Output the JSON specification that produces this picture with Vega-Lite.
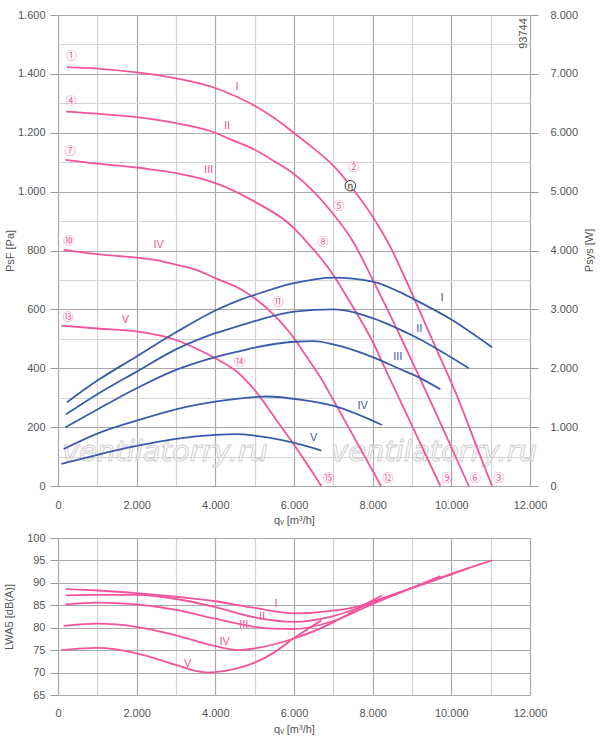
{
"$schema": "https://vega.github.io/schema/vega-lite/v6.json",
"padding": {"left": 3, "top": 9, "right": 5, "bottom": 5},
"spacing": 7,
"config": {
  "view": {"stroke": null},
  "font": "Liberation Sans",
  "axis": {"labelFont": "Liberation Sans", "labelFontSize": 11, "labelColor": "#555555", "titleFont": "Liberation Sans", "titleFontSize": 11, "titleFontWeight": "normal", "titleColor": "#555555", "domain": false, "tickColor": "#9a9a9a", "labelOverlap": false}
},
"datasets": {
  "pressure": [
    {"c":"I","q":229,"p":1423},{"c":"I","q":1000,"p":1418},{"c":"I","q":2000,"p":1405},{"c":"I","q":3000,"p":1385},{"c":"I","q":4000,"p":1352},{"c":"I","q":4500,"p":1325},{"c":"I","q":5000,"p":1292},{"c":"I","q":5500,"p":1250},{"c":"I","q":6000,"p":1199},{"c":"I","q":6500,"p":1147},{"c":"I","q":7000,"p":1088},{"c":"I","q":7432,"p":1020},{"c":"I","q":8000,"p":915},{"c":"I","q":8400,"p":825},{"c":"I","q":9044,"p":640},{"c":"I","q":9600,"p":471},{"c":"I","q":10188,"p":292},{"c":"I","q":10611,"p":145},{"c":"I","q":11035,"p":0},
    {"c":"II","q":203,"p":1272},{"c":"II","q":1000,"p":1265},{"c":"II","q":2000,"p":1253},{"c":"II","q":3000,"p":1233},{"c":"II","q":4000,"p":1200},{"c":"II","q":4340,"p":1180},{"c":"II","q":5000,"p":1142},{"c":"II","q":5500,"p":1103},{"c":"II","q":6000,"p":1060},{"c":"II","q":6500,"p":1000},{"c":"II","q":7000,"p":923},{"c":"II","q":7475,"p":836},{"c":"II","q":8068,"p":683},{"c":"II","q":8746,"p":496},{"c":"II","q":9600,"p":250},{"c":"II","q":10443,"p":0},
    {"c":"III","q":186,"p":1108},{"c":"III","q":1000,"p":1095},{"c":"III","q":2000,"p":1082},{"c":"III","q":2390,"p":1075},{"c":"III","q":3000,"p":1063},{"c":"III","q":4000,"p":1029},{"c":"III","q":5000,"p":966},{"c":"III","q":6000,"p":876},{"c":"III","q":6204,"p":847},{"c":"III","q":7000,"p":717},{"c":"III","q":7400,"p":630},{"c":"III","q":8000,"p":490},{"c":"III","q":8400,"p":375},{"c":"III","q":9000,"p":205},{"c":"III","q":9721,"p":0},
    {"c":"IV","q":145,"p":802},{"c":"IV","q":1035,"p":787},{"c":"IV","q":2000,"p":776},{"c":"IV","q":2500,"p":767},{"c":"IV","q":3000,"p":752},{"c":"IV","q":3500,"p":735},{"c":"IV","q":4000,"p":706},{"c":"IV","q":4678,"p":666},{"c":"IV","q":5000,"p":638},{"c":"IV","q":5500,"p":580},{"c":"IV","q":6034,"p":496},{"c":"IV","q":6204,"p":462},{"c":"IV","q":6712,"p":360},{"c":"IV","q":7000,"p":292},{"c":"IV","q":7500,"p":172},{"c":"IV","q":8213,"p":0},
    {"c":"V","q":85,"p":545},{"c":"V","q":1000,"p":535},{"c":"V","q":2000,"p":525},{"c":"V","q":3000,"p":496},{"c":"V","q":3500,"p":468},{"c":"V","q":4000,"p":434},{"c":"V","q":4594,"p":383},{"c":"V","q":5000,"p":326},{"c":"V","q":5611,"p":213},{"c":"V","q":6204,"p":100},{"c":"V","q":6695,"p":0}
  ],
  "power": [
    {"c":"I","q":229,"P":1422},{"c":"I","q":1000,"P":1790},{"c":"I","q":2000,"P":2200},{"c":"I","q":3000,"P":2610},{"c":"I","q":4000,"P":2980},{"c":"I","q":4678,"P":3173},{"c":"I","q":5000,"P":3246},{"c":"I","q":6000,"P":3445},{"c":"I","q":7000,"P":3540},{"c":"I","q":8000,"P":3472},{"c":"I","q":8746,"P":3275},{"c":"I","q":9000,"P":3190},{"c":"I","q":10018,"P":2821},{"c":"I","q":11035,"P":2357},
    {"c":"II","q":203,"P":1218},{"c":"II","q":1000,"P":1560},{"c":"II","q":2000,"P":1943},{"c":"II","q":3000,"P":2320},{"c":"II","q":4000,"P":2595},{"c":"II","q":4678,"P":2736},{"c":"II","q":5000,"P":2800},{"c":"II","q":6000,"P":2962},{"c":"II","q":7000,"P":3000},{"c":"II","q":8000,"P":2850},{"c":"II","q":8746,"P":2640},{"c":"II","q":9000,"P":2560},{"c":"II","q":10443,"P":2000},
    {"c":"III","q":186,"P":997},{"c":"III","q":1000,"P":1300},{"c":"III","q":2000,"P":1660},{"c":"III","q":3000,"P":1971},{"c":"III","q":4000,"P":2190},{"c":"III","q":4678,"P":2300},{"c":"III","q":5000,"P":2350},{"c":"III","q":6000,"P":2450},{"c":"III","q":6500,"P":2460},{"c":"III","q":7000,"P":2405},{"c":"III","q":8000,"P":2190},{"c":"III","q":8746,"P":1971},{"c":"III","q":9000,"P":1900},{"c":"III","q":9721,"P":1643},
    {"c":"IV","q":145,"P":629},{"c":"IV","q":1000,"P":890},{"c":"IV","q":2000,"P":1110},{"c":"IV","q":3000,"P":1303},{"c":"IV","q":4000,"P":1433},{"c":"IV","q":5000,"P":1510},{"c":"IV","q":5300,"P":1520},{"c":"IV","q":6204,"P":1462},{"c":"IV","q":7010,"P":1360},{"c":"IV","q":8238,"P":1037},
    {"c":"V","q":85,"P":374},{"c":"V","q":1000,"P":530},{"c":"V","q":2000,"P":680},{"c":"V","q":3000,"P":800},{"c":"V","q":4000,"P":867},{"c":"V","q":4500,"P":880},{"c":"V","q":5000,"P":855},{"c":"V","q":5600,"P":790},{"c":"V","q":6204,"P":697},{"c":"V","q":6695,"P":600}
  ],
  "sound": [
    {"c":"I","q":203,"L":88.6},{"c":"I","q":1000,"L":88.3},{"c":"I","q":2000,"L":87.7},{"c":"I","q":3000,"L":86.9},{"c":"I","q":4000,"L":85.9},{"c":"I","q":5000,"L":84.4},{"c":"I","q":6000,"L":83.2},{"c":"I","q":7000,"L":83.8},{"c":"I","q":7730,"L":85.0},{"c":"I","q":8000,"L":85.8},{"c":"I","q":9000,"L":88.9},{"c":"I","q":10000,"L":92.0},{"c":"I","q":11035,"L":95.0},
    {"c":"II","q":203,"L":87.2},{"c":"II","q":1000,"L":87.3},{"c":"II","q":2000,"L":87.3},{"c":"II","q":3000,"L":86.4},{"c":"II","q":4000,"L":84.6},{"c":"II","q":5000,"L":82.3},{"c":"II","q":6000,"L":81.3},{"c":"II","q":7000,"L":82.6},{"c":"II","q":8000,"L":85.6},{"c":"II","q":9000,"L":88.8},{"c":"II","q":10000,"L":91.9},{"c":"II","q":10443,"L":93.3},
    {"c":"III","q":186,"L":85.2},{"c":"III","q":1000,"L":85.6},{"c":"III","q":2000,"L":85.2},{"c":"III","q":3000,"L":84.0},{"c":"III","q":4000,"L":82.0},{"c":"III","q":5000,"L":80.2},{"c":"III","q":5500,"L":79.8},{"c":"III","q":6000,"L":79.7},{"c":"III","q":7000,"L":81.5},{"c":"III","q":8000,"L":85.3},{"c":"III","q":9000,"L":88.9},{"c":"III","q":9721,"L":91.5},
    {"c":"IV","q":145,"L":80.4},{"c":"IV","q":1000,"L":80.9},{"c":"IV","q":2000,"L":80.2},{"c":"IV","q":3000,"L":78.3},{"c":"IV","q":4000,"L":75.9},{"c":"IV","q":4600,"L":75.0},{"c":"IV","q":5000,"L":75.4},{"c":"IV","q":6000,"L":77.6},{"c":"IV","q":7000,"L":81.2},{"c":"IV","q":7500,"L":83.6},{"c":"IV","q":8000,"L":86.1},{"c":"IV","q":8238,"L":87.2},
    {"c":"V","q":85,"L":75.0},{"c":"V","q":1000,"L":75.5},{"c":"V","q":2000,"L":74.3},{"c":"V","q":3000,"L":71.7},{"c":"V","q":3500,"L":70.4},{"c":"V","q":3800,"L":70.0},{"c":"V","q":4000,"L":70.1},{"c":"V","q":4500,"L":70.8},{"c":"V","q":5000,"L":72.2},{"c":"V","q":5500,"L":74.5},{"c":"V","q":6000,"L":77.7},{"c":"V","q":6400,"L":80.0},{"c":"V","q":6695,"L":81.6}
  ],
  "circled": [
    {"t":"①","q":338,"p":1456},{"t":"④","q":331,"p":1303},{"t":"⑦","q":305,"p":1136},{"t":"⑩","q":271,"p":830},{"t":"⑬","q":254,"p":570},
    {"t":"②","q":7518,"p":1080},{"t":"⑤","q":7137,"p":947},{"t":"⑧","q":6738,"p":825},{"t":"⑪","q":5594,"p":621},{"t":"⑭","q":4620,"p":419},
    {"t":"③","q":11205,"p":23},{"t":"⑥","q":10611,"p":23},{"t":"⑨","q":9891,"p":23},{"t":"⑫","q":8391,"p":23},{"t":"⑮","q":6878,"p":23}
  ],
  "proman": [
    {"t":"I","q":4551,"p":1357},{"t":"II","q":4297,"p":1224},{"t":"III","q":3831,"p":1072},{"t":"IV","q":2560,"p":819},{"t":"V","q":1712,"p":564}
  ],
  "broman": [
    {"t":"I","q":9764,"P":3190},{"t":"II","q":9187,"P":2668},{"t":"III","q":8637,"P":2187},{"t":"IV","q":7747,"P":1360},{"t":"V","q":6501,"P":811}
  ],
  "sroman": [
    {"t":"I","q":5543,"L":85.3},{"t":"II","q":5187,"L":82.4},{"t":"III","q":4721,"L":80.7},{"t":"IV","q":4238,"L":76.9},{"t":"V","q":3297,"L":71.8}
  ],
  "eta": [{"t":"η","q":7432,"p":1020}],
  "code": [{"t":"93744","q":11848,"p":1537}],
  "mark": [{"t":"ventilatorry.ru","q":2720,"p":85},{"t":"ventilatorry.ru","q":9560,"p":85}]
},
"vconcat": [
  {
    "width": 472, "height": 471,
    "resolve": {"scale": {"y": "independent"}},
    "encoding": {
      "x": {"field": "q", "type": "quantitative", "scale": {"domain": [0, 12000], "nice": false},
        "axis": {"values": [0,1000,2000,3000,4000,5000,6000,7000,8000,9000,10000,11000,12000],
          "labelExpr": "datum.value % 2000 == 0 ? replace(format(datum.value, ','), ',', '.') : ''",
          "ticks": false, "tickSize": 0, "labelPadding": 13, "labelFlush": false,
          "grid": true, "gridWidth": 1.2, "gridColor": {"condition": {"test": "datum.value % 2000 == 0", "value": "#a9a9a9"}, "value": "#d4d4d4"},
          "title": "qᵥ [m³/h]", "titlePadding": 4}}
    },
    "layer": [
      {
        "encoding": {
          "y": {"field": "p", "type": "quantitative", "scale": {"domain": [0, 1600], "nice": false},
            "axis": {"values": [0,100,200,300,400,500,600,700,800,900,1000,1100,1200,1300,1400,1500,1600],
              "labelExpr": "datum.value % 200 == 0 ? replace(format(datum.value, ','), ',', '.') : ''",
              "tickSize": 8, "tickOpacity": {"condition": {"test": "datum.value % 200 == 0", "value": 1}, "value": 0},
              "labelPadding": 5, "grid": true, "gridWidth": 1.2,
              "gridColor": {"condition": {"test": "datum.value % 200 == 0", "value": "#a9a9a9"}, "value": "#d4d4d4"},
              "title": "PsF [Pa]", "titlePadding": 2}}
        },
        "layer": [
          {"data": {"name": "mark"}, "mark": {"type": "text", "font": "DejaVu Sans", "fontSize": 29, "fontStyle": "oblique", "fill": "#ffffff", "fillOpacity": 0.5, "stroke": "#d0d0d0", "strokeWidth": 1, "align": "center", "baseline": "alphabetic"},
            "encoding": {"text": {"field": "t"}}},
          {"data": {"name": "pressure"}, "mark": {"type": "line", "color": "#f2559c", "strokeWidth": 1.8, "interpolate": "monotone"},
            "encoding": {"detail": {"field": "c"}}},
          {"data": {"name": "circled"}, "mark": {"type": "text", "font": "Noto Sans CJK JP", "fontSize": 11, "color": "#f2559c", "align": "center", "baseline": "middle"},
            "encoding": {"text": {"field": "t"}}},
          {"data": {"name": "proman"}, "mark": {"type": "text", "font": "Liberation Sans", "fontSize": 11, "color": "#f2559c", "align": "center", "baseline": "middle"},
            "encoding": {"text": {"field": "t"}}},
          {"data": {"name": "eta"}, "mark": {"type": "point", "shape": "circle", "size": 110, "filled": true, "fill": "#ffffff", "stroke": "#333333", "strokeWidth": 1, "opacity": 1}},
          {"data": {"name": "eta"}, "mark": {"type": "text", "font": "DejaVu Sans", "fontSize": 9, "color": "#222222", "align": "center", "baseline": "middle"},
            "encoding": {"text": {"field": "t"}}},
          {"data": {"name": "code"}, "mark": {"type": "text", "font": "Liberation Sans", "fontSize": 11, "color": "#555555", "angle": 270, "align": "center", "baseline": "middle"},
            "encoding": {"text": {"field": "t"}}},
          {"data": {"values": [{}]}, "mark": {"type": "rule", "color": "#f2559c", "strokeWidth": 1.8},
            "encoding": {"x": {"datum": -1297}, "y": {"datum": 564}, "y2": {"datum": 702}}}
        ]
      },
      {
        "encoding": {
          "y": {"field": "P", "type": "quantitative", "scale": {"domain": [0, 8000], "nice": false},
            "axis": {"orient": "right", "values": [0,1000,2000,3000,4000,5000,6000,7000,8000],
              "labelExpr": "replace(format(datum.value, ','), ',', '.')",
              "tickSize": 8, "labelPadding": 12, "grid": false,
              "title": "Psys [W]", "titleAngle": 270, "titleX": 59, "titleY": 235, "titleAlign": "center", "titleBaseline": "middle"}}
        },
        "layer": [
          {"data": {"name": "power"}, "mark": {"type": "line", "color": "#3a5ba8", "strokeWidth": 1.8, "interpolate": "monotone"},
            "encoding": {"detail": {"field": "c"}}},
          {"data": {"name": "broman"}, "mark": {"type": "text", "font": "Liberation Sans", "fontSize": 11, "color": "#3a5ba8", "align": "center", "baseline": "middle"},
            "encoding": {"text": {"field": "t"}}},
          {"data": {"values": [{}]}, "mark": {"type": "rule", "color": "#3a5ba8", "strokeWidth": 1.8},
            "encoding": {"x": {"datum": 13560}, "y": {"datum": 2821}, "y2": {"datum": 3513}}}
        ]
      }
    ]
  },
  {
    "width": 472, "height": 157,
    "encoding": {
      "x": {"field": "q", "type": "quantitative", "scale": {"domain": [0, 12000], "nice": false},
        "axis": {"values": [0,1000,2000,3000,4000,5000,6000,7000,8000,9000,10000,11000,12000],
          "labelExpr": "datum.value % 2000 == 0 ? replace(format(datum.value, ','), ',', '.') : ''",
          "ticks": false, "tickSize": 0, "labelPadding": 12, "labelFlush": false,
          "grid": true, "gridWidth": 1.2, "gridColor": {"condition": {"test": "datum.value % 2000 == 0", "value": "#a9a9a9"}, "value": "#d4d4d4"},
          "title": "qᵥ [m³/h]", "titlePadding": 5}},
      "y": {"field": "L", "type": "quantitative", "scale": {"domain": [65, 100], "nice": false, "zero": false},
        "axis": {"values": [65,70,75,80,85,90,95,100], "tickSize": 8, "labelPadding": 5, "grid": true, "gridWidth": 1.2, "gridColor": "#a9a9a9",
          "title": "LWA5 [dB(A)]", "titlePadding": 12}}
    },
    "layer": [
      {"data": {"name": "sound"}, "mark": {"type": "line", "color": "#f2559c", "strokeWidth": 1.8, "interpolate": "monotone"},
        "encoding": {"detail": {"field": "c"}}},
      {"data": {"name": "sroman"}, "mark": {"type": "text", "font": "Liberation Sans", "fontSize": 11, "color": "#f2559c", "align": "center", "baseline": "middle"},
        "encoding": {"text": {"field": "t"}}}
    ]
  }
]
}
